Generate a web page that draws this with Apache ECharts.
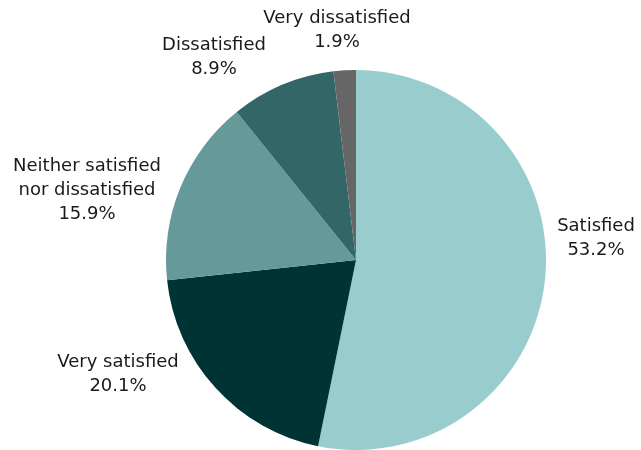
<!DOCTYPE html>
<html>
<head>
<meta charset="utf-8">
<script src="https://cdn.jsdelivr.net/npm/echarts@6/dist/echarts.min.js"></script>
<style>
html,body{margin:0;padding:0;background:#fff;}
#chart{width:641px;height:450px;}
</style>
</head>
<body>
<div id="chart"></div>
<script>
const categories = ["Satisfied", "Very satisfied", "Neither satisfied\nnor dissatisfied", "Dissatisfied", "Very dissatisfied"];
const values = [53.2, 20.1, 15.9, 8.9, 1.9];
const colors = ["#99CCCC", "#003333", "#669999", "#336666", "#666666"];
// label anchor points (text block centres)
const labelPos = [[596, 238], [118, 374], [87, 190], [214, 57], [337, 30]];

const chart = echarts.init(document.getElementById('chart'), null, {renderer: 'canvas'});
chart.setOption({
  animation: false,
  backgroundColor: '#ffffff',
  series: [{
    type: 'pie',
    center: [356, 260],
    radius: [0, 190],
    startAngle: 90,
    clockwise: true,
    avoidLabelOverlap: false,
    data: categories.map((c, i) => ({name: c, value: values[i], itemStyle: {color: colors[i]}})),
    label: {
      show: true,
      position: 'outside',
      formatter: p => p.name + '\n' + p.value.toFixed(1) + '%',
      fontFamily: 'DejaVu Sans, sans-serif',
      fontSize: 18,
      lineHeight: 24,
      color: '#1a1a1a',
      align: 'center'
    },
    labelLine: {show: false},
    labelLayout: function (params) {
      const p = labelPos[params.dataIndex];
      return {x: p[0], y: p[1], align: 'center', verticalAlign: 'middle'};
    },
    emphasis: {disabled: true}
  }]
});
</script>
</body>
</html>
